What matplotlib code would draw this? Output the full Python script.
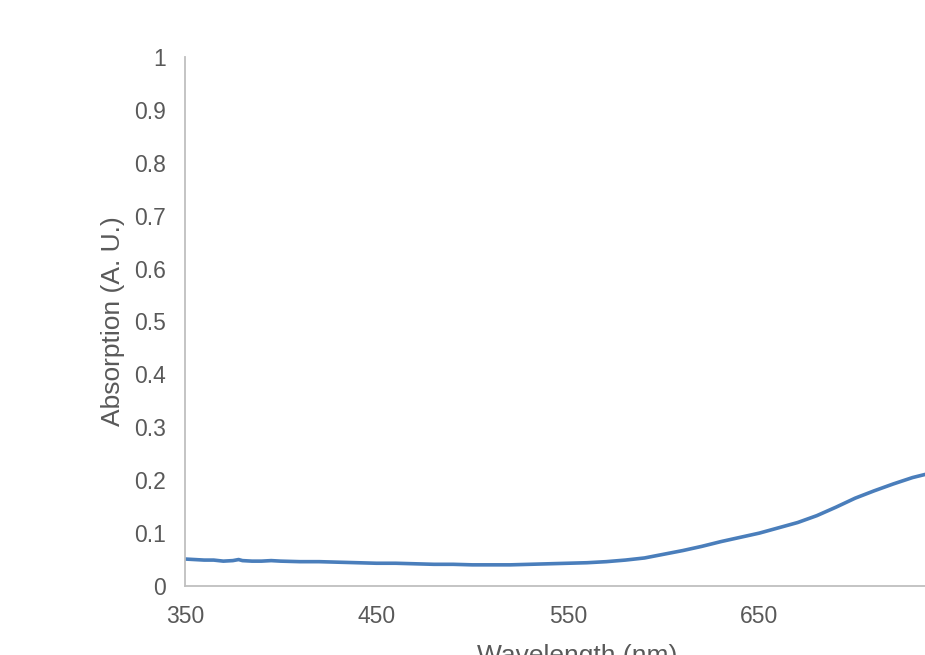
import matplotlib
matplotlib.use("Agg")
import matplotlib.pyplot as plt

plt.rcParams['font.family'] = ['Liberation Sans', 'DejaVu Sans']

# absorption spectrum
wavelength = [350, 355, 360, 365, 370, 375, 378, 380, 385, 390, 395, 400,
              410, 420, 430, 440, 450, 460, 470, 480, 490, 500, 510, 520,
              530, 540, 550, 560, 570, 580, 590, 600, 610, 620, 630, 640,
              650, 660, 670, 680, 690, 700, 710, 720, 730, 740, 750, 760]
absorption = [0.051, 0.050, 0.049, 0.049, 0.047, 0.048, 0.050, 0.048, 0.047, 0.047, 0.048, 0.047,
              0.046, 0.046, 0.045, 0.044, 0.043, 0.043, 0.042, 0.041, 0.041, 0.040, 0.040, 0.040,
              0.041, 0.042, 0.043, 0.044, 0.046, 0.049, 0.053, 0.060, 0.067, 0.075, 0.084, 0.092,
              0.100, 0.110, 0.120, 0.133, 0.149, 0.166, 0.180, 0.193, 0.205, 0.214, 0.220, 0.225]
xticks = [350, 450, 550, 650]
yticks = [0, 0.1, 0.2, 0.3, 0.4, 0.5, 0.6, 0.7, 0.8, 0.9, 1]
ylabels = ["0", "0.1", "0.2", "0.3", "0.4", "0.5", "0.6", "0.7", "0.8", "0.9", "1"]

txt = '#595959'
fig = plt.figure(figsize=(9.25, 6.55), dpi=100)
ax = fig.add_axes([185/925, 69/655, 785/925, 529/655])

ax.plot(wavelength, absorption, color='#4a7ebb', lw=2.6)

ax.set_xlim(350, 760)
ax.set_ylim(0, 1)
ax.set_xticks(xticks)
ax.set_yticks(yticks)
ax.set_yticklabels(ylabels)
ax.tick_params(length=0, labelsize=16.5, colors=txt)
ax.tick_params(axis='y', pad=14)
ax.tick_params(axis='x', pad=14)

for s in ['top', 'right']:
    ax.spines[s].set_visible(False)
for s in ['left', 'bottom']:
    ax.spines[s].set_color('#bfbfbf')
    ax.spines[s].set_linewidth(1.3)

ax.set_xlabel("Wavelength (nm)", fontsize=19, color=txt, labelpad=11)
ax.set_ylabel("Absorption (A. U.)", fontsize=19, color=txt, labelpad=6)

fig.savefig("out.png", dpi=100)
